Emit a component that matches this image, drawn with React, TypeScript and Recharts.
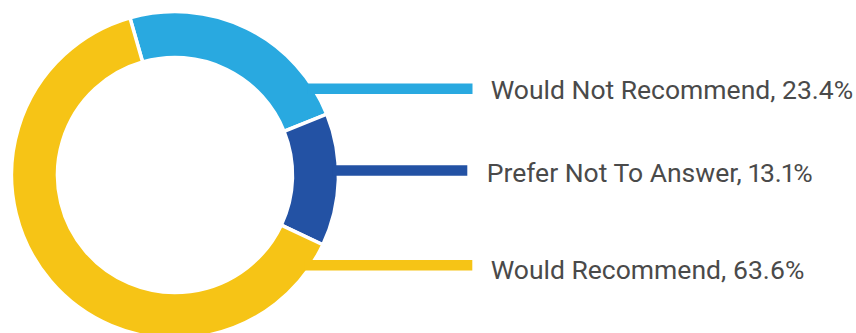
import React from "react";
import { PieChart, Pie, Cell } from "recharts";

const categories = ["Would Not Recommend", "Prefer Not To Answer", "Would Recommend"];
const shares = [23.4, 13.1, 63.6];
const colors = ["#29A9E0", "#2352A4", "#F6C416"];

// layout of the leader lines / labels (not data)
const LINE_Y = [88.7, 170.5, 265.3];
const LINE_END = [472.5, 467.3, 472.3];
const TEXT_X = [490.7, 486.7, 490.7];
const TEXT_BASE = [99.3, 181.7, 279.3];

const data = categories.map((name, i) => ({ name, value: shares[i] }));

const CX = 175;
const CY = 175;
const OUTER = 163.5;
const INNER = 117.5;

function renderLabel(props: any) {
  const { index, cx, cy, name, value } = props;
  const y = LINE_Y[index];
  const R = OUTER - 2;
  const dy = y - cy;
  const xs = cx + Math.sqrt(Math.max(0, R * R - dy * dy)) - 4;
  return (
    <g key={`lbl-${index}`}>
      <line x1={xs} y1={y} x2={LINE_END[index]} y2={y} stroke={colors[index]} strokeWidth={10.5} />
      <text
        x={TEXT_X[index]}
        y={TEXT_BASE[index]}
        textAnchor="start"
        fill="#4a4a4a"
        fontFamily="Roboto, 'Liberation Sans', sans-serif"
        fontSize={26.5}
        style={{ fontVariantNumeric: "proportional-nums", fontFeatureSettings: '"pnum" 1' }}
      >
        {`${name}, ${value.toFixed(1)}%`}
      </text>
    </g>
  );
}

export default function App() {
  return (
    <div style={{ position: "absolute", left: 0, top: 0, background: "#fff" }}>
      <PieChart width={856} height={333} margin={{ top: 0, right: 0, bottom: 0, left: 0 }}>
        <Pie
          data={data}
          dataKey="value"
          nameKey="name"
          cx={CX}
          cy={CY}
          innerRadius={INNER}
          outerRadius={OUTER}
          startAngle={106}
          endAngle={-254}
          stroke="#ffffff"
          strokeWidth={3.5}
          isAnimationActive={false}
          label={renderLabel}
          labelLine={false}
        >
          {data.map((d, i) => (
            <Cell key={d.name} fill={colors[i]} />
          ))}
        </Pie>
      </PieChart>
    </div>
  );
}
